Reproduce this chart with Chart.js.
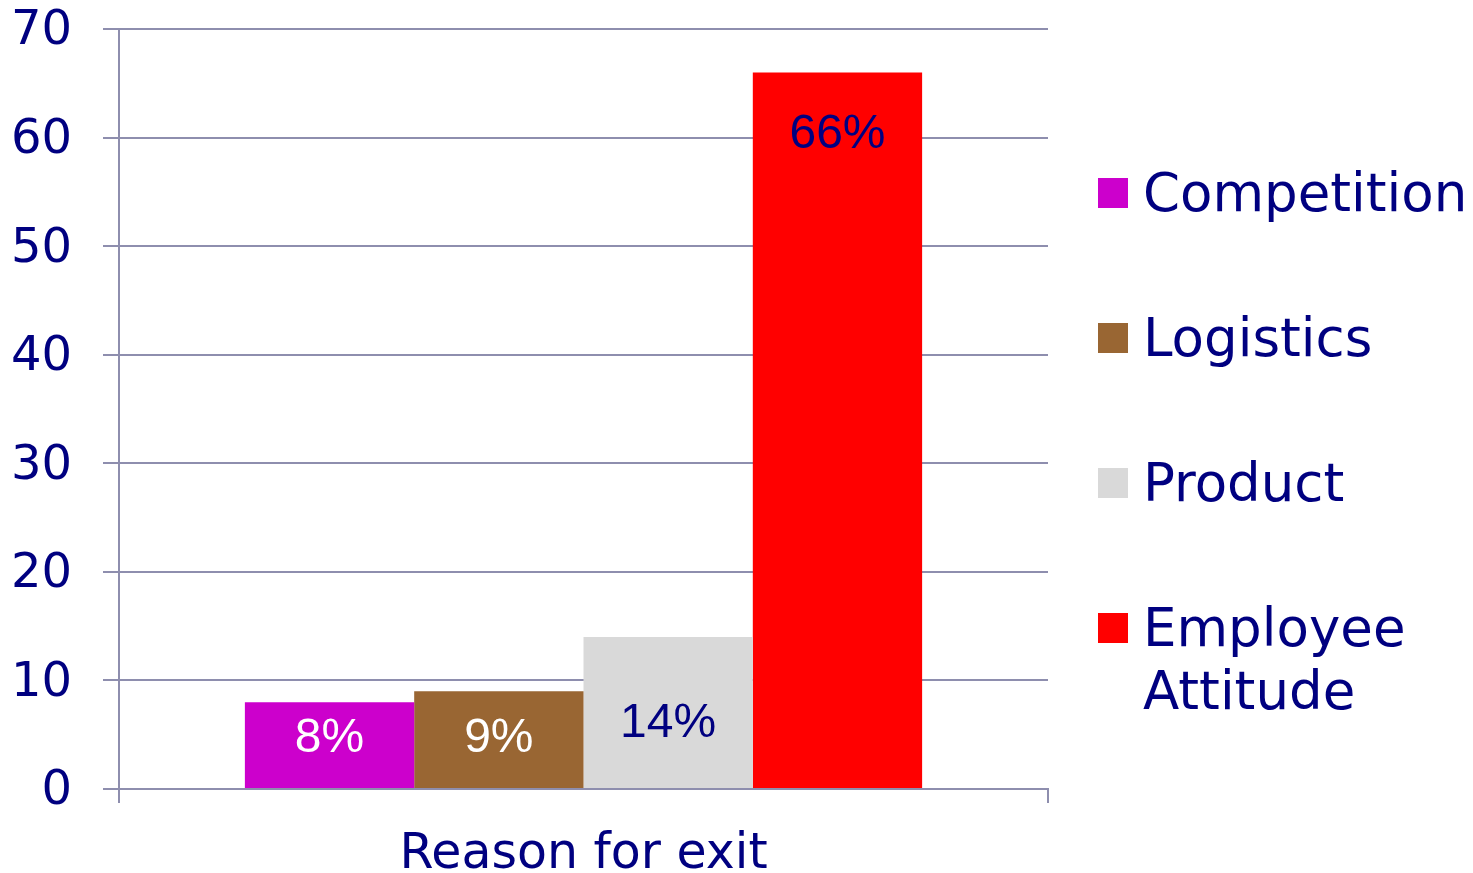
<!DOCTYPE html>
<html>
<head>
<meta charset="utf-8">
<title>Reason for exit</title>
<script src="https://cdn.jsdelivr.net/npm/chart.js@4/dist/chart.umd.min.js"></script>
<style>
  body { margin: 0; background: #fff; }
  #wrap { position: relative; width: 1473px; height: 873px; }
  #legend { position: absolute; left: 1098px; top: 161px; font-family: "DejaVu Sans", Verdana, sans-serif;
            font-size: 53px; line-height: 63px; color: #000080; }
  .item { position: relative; padding-left: 45px; margin-bottom: 82px; }
  .box { position: absolute; left: 0; top: 17px; width: 30px; height: 30px; }
</style>
</head>
<body>
<div id="wrap">
  <canvas id="exitChart"></canvas>
  <div id="legend"></div>
</div>
<script>
// values for the chart
var categories = ['Reason for exit'];
var reasons = ['Competition', 'Logistics', 'Product', 'Employee Attitude'];
var shares = [8, 9, 14, 66];
var yTicks = [0, 10, 20, 30, 40, 50, 60, 70];

var barColors = ['#CC00CC', '#996633', '#D9D9D9', '#FF0000'];
var labelColors = ['#FFFFFF', '#FFFFFF', '#000080', '#000080'];
var labelDrop = [37, 47, 87, 62];   // how far below each bar top the % label sits
var navy = '#000080';
var gridColor = '#8E8EAE';

// one dataset per reason so every bar gets its own legend entry
var datasets = reasons.map(function (name, i) {
    return {
        label: name,
        data: [shares[i]],
        backgroundColor: barColors[i],
        borderWidth: 0,
        categoryPercentage: 0.729,
        barPercentage: 1.0
    };
});

// percentage labels written on the bars
var barLabels = {
    id: 'barLabels',
    afterDatasetsDraw: function (chart) {
        var ctx = chart.ctx;
        ctx.save();
        ctx.font = '48px "Liberation Sans", Arial, sans-serif';
        ctx.textAlign = 'center';
        ctx.textBaseline = 'middle';
        chart.data.datasets.forEach(function (ds, i) {
            var bar = chart.getDatasetMeta(i).data[0];
            ctx.fillStyle = labelColors[i];
            ctx.fillText(ds.data[0] + '%', bar.x, bar.y + labelDrop[i]);
        });
        ctx.restore();
    }
};

var exitChart = new Chart(document.getElementById('exitChart'), {
    type: 'bar',
    data: { labels: categories, datasets: datasets },
    options: {
        responsive: true,
        maintainAspectRatio: false,
        animation: false,
        layout: { padding: { top: 0, right: 425, bottom: 0, left: 0 } },
        plugins: { legend: { display: false }, tooltip: { enabled: false } },
        scales: {
            x: {
                grid: { drawOnChartArea: false, color: gridColor, lineWidth: 2, tickLength: 14 },
                border: { color: gridColor, width: 2 },
                ticks: { color: navy, padding: 23, font: { family: 'DejaVu Sans', size: 49 } },
                afterFit: function (scale) { scale.height = 84; }
            },
            y: {
                min: yTicks[0],
                max: yTicks[yTicks.length - 1],
                afterBuildTicks: function (scale) {
                    scale.ticks = yTicks.map(function (v) { return { value: v }; });
                },
                grid: { color: gridColor, lineWidth: 2, tickLength: 16 },
                border: { color: gridColor, width: 2 },
                ticks: { color: navy, padding: 31, labelOffset: 3, font: { family: 'DejaVu Sans', size: 48 } },
                afterFit: function (scale) {
                    scale.width = 119;
                    scale.paddingTop = 29;
                    scale.paddingBottom = 0;
                }
            }
        }
    },
    plugins: [barLabels]
});

// legend on the right, built from the same arrays
var legend = document.getElementById('legend');
var legendText = ['Competition', 'Logistics', 'Product', 'Employee<br>Attitude'];
reasons.forEach(function (name, i) {
    var item = document.createElement('div');
    item.className = 'item';
    item.innerHTML = '<span class="box" style="background:' + barColors[i] + '"></span>' + legendText[i];
    legend.appendChild(item);
});
</script>
</body>
</html>
